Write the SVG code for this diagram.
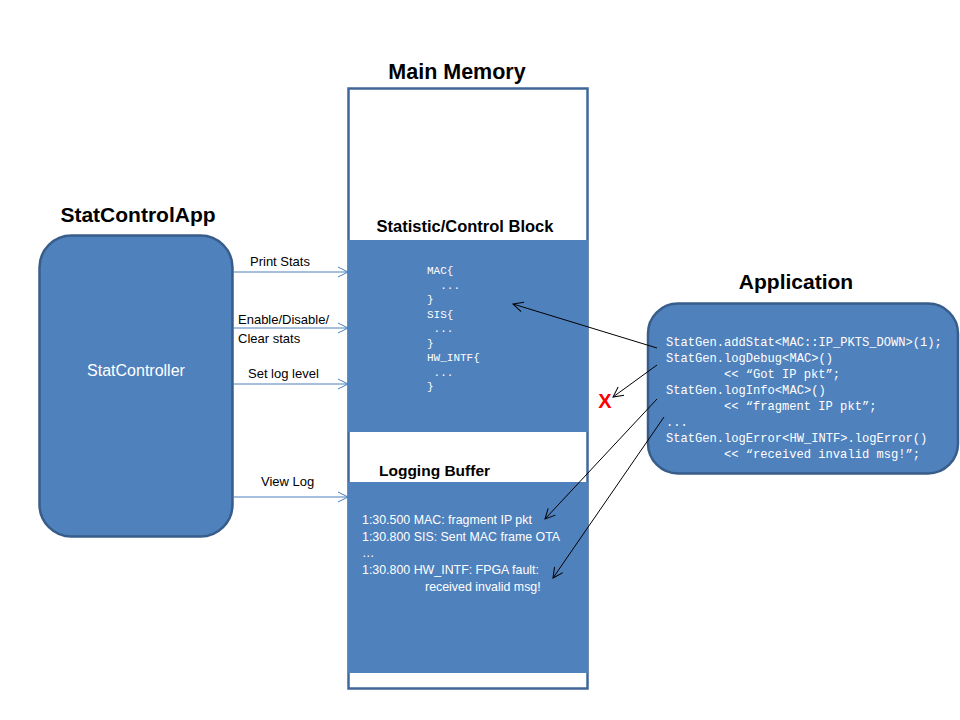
<svg xmlns="http://www.w3.org/2000/svg" width="960" height="720" viewBox="0 0 960 720">
<defs>
<style>
.title{font-family:"Liberation Sans",Arial,sans-serif;font-weight:bold;fill:#000}
.lbl{font-family:"Liberation Sans",Arial,sans-serif;font-size:13px;fill:#000}
.wt{font-family:"Liberation Sans",Arial,sans-serif;fill:#fff}
.mono{font-family:"Liberation Mono","DejaVu Sans Mono",monospace;fill:#fff}
.box{fill:#4f81bd;stroke:#385d8a;stroke-width:2.5}
.blk{fill:#4f81bd}
.bl{stroke:#4a7ebb;stroke-width:1;fill:none;marker-end:url(#ab)}
.kl{stroke:#000;stroke-width:1;fill:none;marker-end:url(#ak)}
</style>
<marker id="ab" markerWidth="12" markerHeight="12" refX="11" refY="6" orient="auto" markerUnits="userSpaceOnUse">
<path d="M1,1 L11,6 L1,11" fill="none" stroke="#4a7ebb" stroke-width="1"/>
</marker>
<marker id="ak" markerWidth="12" markerHeight="12" refX="11" refY="6" orient="auto" markerUnits="userSpaceOnUse">
<path d="M1,1 L11,6 L1,11" fill="none" stroke="#000" stroke-width="1"/>
</marker>
</defs>
<rect width="960" height="720" fill="#fff"/>

<g id="main-memory">
<text class="title" x="457" y="79" font-size="21.5" text-anchor="middle">Main Memory</text>
<rect x="348.5" y="88.5" width="239" height="600" fill="#fff" stroke="#41679a" stroke-width="2.5"/>
</g>

<g id="stat-block">
<text class="title" x="465" y="232" font-size="16.5" text-anchor="middle">Statistic/Control Block</text>
<rect class="blk" x="348" y="240" width="240" height="192"/>
<g class="mono" font-size="11">
<text x="427" y="274">MAC{</text>
<text x="440.2" y="288.5">...</text>
<text x="427" y="303">}</text>
<text x="427" y="317.5">SIS{</text>
<text x="433.6" y="332">...</text>
<text x="427" y="346.5">}</text>
<text x="427" y="361">HW_INTF{</text>
<text x="433.6" y="375.5">...</text>
<text x="427" y="390">}</text>
</g>
</g>

<g id="logging-buffer">
<text class="title" x="379" y="476" font-size="15.5">Logging Buffer</text>
<rect class="blk" x="348" y="482" width="240" height="191"/>
<g class="wt" font-size="12.4">
<text x="362" y="524">1:30.500 MAC: fragment IP pkt</text>
<text x="362" y="541">1:30.800 SIS: Sent MAC frame OTA</text>
<text x="362" y="557">…</text>
<text x="362" y="574">1:30.800 HW_INTF: FPGA fault:</text>
<text x="425" y="591">received invalid msg!</text>
</g>
</g>

<g id="statcontrolapp">
<text class="title" x="138" y="222" font-size="21" text-anchor="middle">StatControlApp</text>
<rect class="box" x="39.5" y="235.5" width="193" height="301" rx="32" ry="32"/>
<text class="wt" x="136" y="376" font-size="16" text-anchor="middle">StatController</text>
</g>

<g id="application">
<text class="title" x="796" y="289" font-size="21" text-anchor="middle">Application</text>
<rect class="box" x="648" y="303.5" width="310" height="170" rx="30" ry="30"/>
<g class="mono" font-size="12.1">
<text x="666" y="346">StatGen.addStat&lt;MAC::IP_PKTS_DOWN&gt;(1);</text>
<text x="666" y="362">StatGen.logDebug&lt;MAC&gt;()</text>
<text x="724" y="378">&lt;&lt; “Got IP pkt”;</text>
<text x="666" y="394">StatGen.logInfo&lt;MAC&gt;()</text>
<text x="724" y="410">&lt;&lt; “fragment IP pkt”;</text>
<text x="666" y="426">...</text>
<text x="666" y="442">StatGen.logError&lt;HW_INTF&gt;.logError()</text>
<text x="724" y="458">&lt;&lt; “received invalid msg!”;</text>
</g>
</g>

<g id="connectors">
<line class="bl" x1="233" y1="272" x2="348" y2="272"/>
<line class="bl" x1="233" y1="328" x2="348" y2="328"/>
<line class="bl" x1="233" y1="384" x2="348" y2="384"/>
<line class="bl" x1="233" y1="497" x2="348" y2="497"/>
<text class="lbl" x="250" y="266">Print Stats</text>
<text class="lbl" x="238" y="324">Enable/Disable/</text>
<text class="lbl" x="238" y="343">Clear stats</text>
<text class="lbl" x="248" y="378">Set log level</text>
<text class="lbl" x="261" y="486">View Log</text>
<line class="kl" x1="657" y1="348" x2="513" y2="304"/>
<line class="kl" x1="657" y1="365" x2="613" y2="397"/>
<line class="kl" x1="657" y1="399" x2="545" y2="519"/>
<line class="kl" x1="664" y1="417" x2="553" y2="578"/>
<text x="605" y="408" text-anchor="middle" font-family="Liberation Sans,Arial,sans-serif" font-weight="bold" font-size="20" fill="#ff0000">X</text>
</g>
</svg>
